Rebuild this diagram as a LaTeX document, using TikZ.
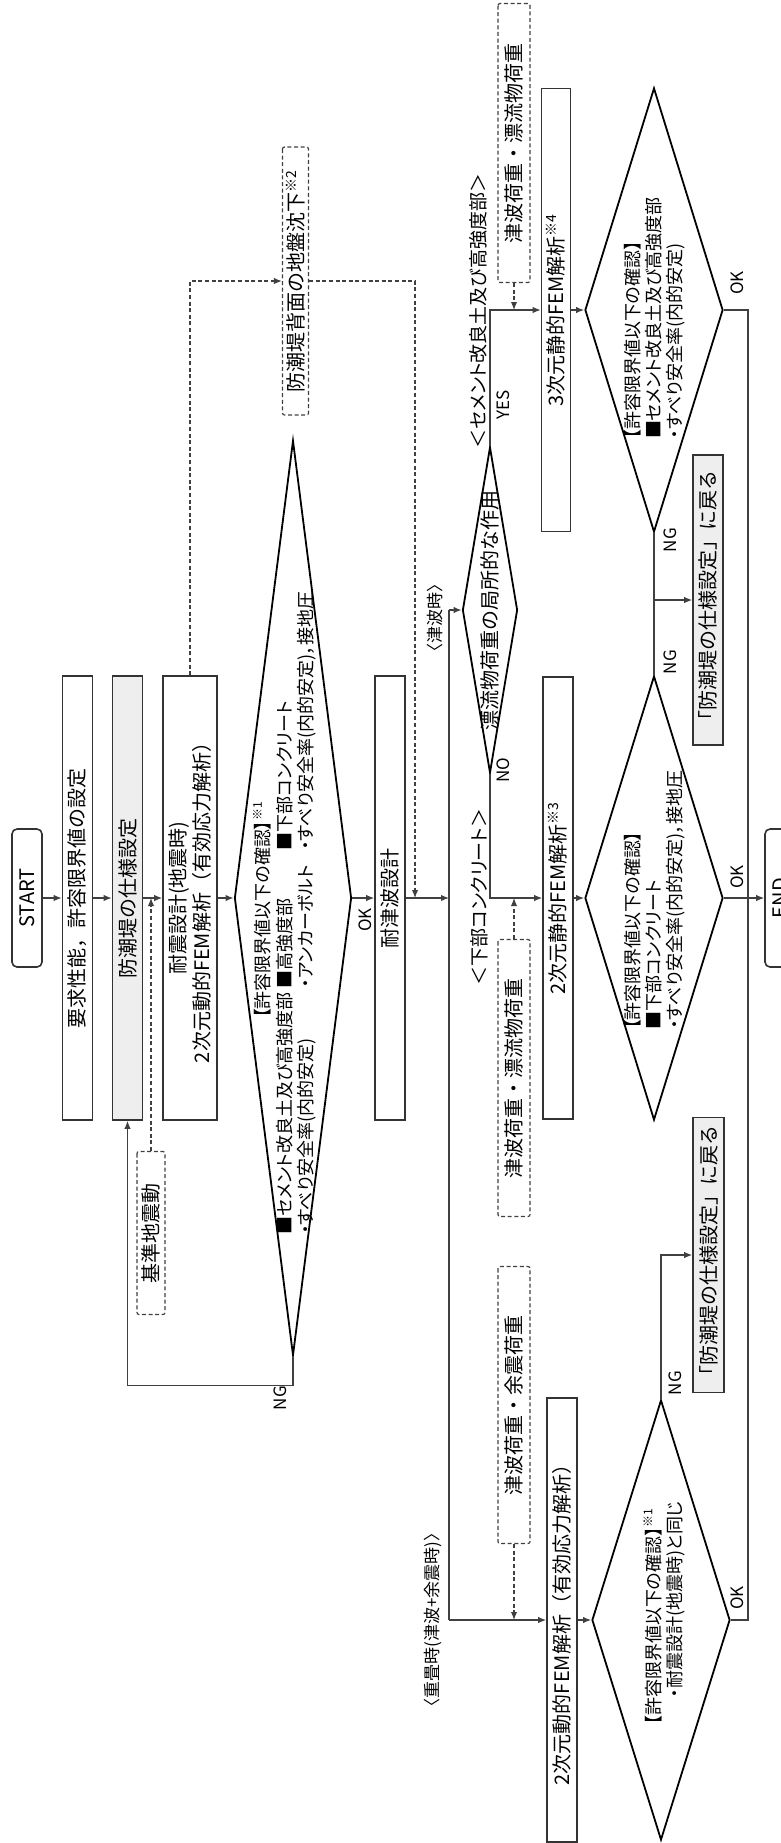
\documentclass[tikz,border=0pt]{standalone}
\usepackage{fontspec}
\setmainfont{Noto Sans CJK JP}
\newfontfamily\pfont{Noto Sans CJK JP}[RawFeature=+palt]
\usepackage{xcolor}
\usepackage{tikz}
\usetikzlibrary{shapes.geometric,arrows.meta,positioning}
\definecolor{boxgray}{HTML}{EEEEEE}
\tikzset{
  box/.style={draw=black!80,line width=0.8pt,rotate=90,inner sep=0pt,minimum height=15pt,font=\fontsize{10}{12}\selectfont},
  grbox/.style={box,fill=boxgray},
  term/.style={box,rounded corners=2.5pt},
  dbox/.style={draw=black!75,line width=0.6pt,dash pattern=on 2pt off 1.3pt,rounded corners=1pt,rotate=90,inner sep=0pt,minimum height=15pt,font=\fontsize{10}{12}\selectfont},
  dec/.style={diamond,draw=black,line width=0.9pt,inner sep=0pt},
  dtxt/.style={rotate=90,inner sep=0pt,font=\pfont\fontsize{9}{10.5}\selectfont},
  txt/.style={rotate=90,inner sep=0pt,font=\fontsize{10}{12}\selectfont},
  lbl/.style={rotate=90,inner sep=0pt,font=\pfont\fontsize{9.5}{11}\selectfont},
  slbl/.style={rotate=90,inner sep=0pt,font=\fontsize{8.5}{10}\selectfont},
  yn/.style={rotate=90,inner sep=0pt,font=\fontsize{8.5}{10}\selectfont},
  conn/.style={draw=black!75,line width=0.6pt},
  arr/.style={conn,-{Latex[length=4pt,width=3.2pt]}},
  darr/.style={arr,dash pattern=on 2pt off 1.3pt}
}
\begin{document}
\begin{tikzpicture}[x=0.5pt,y=-0.5pt]
\useasboundingbox (0,0) rectangle (781,1843);
\clip (0,0) rectangle (781,1843);

% seismic design column
\node[term,minimum width=69pt] (start) at (27,898) {START};
\node[box,minimum width=222pt] (req) at (77.5,898) {要求性能，許容限界値の設定};
\node[grbox,minimum width=222pt] (spec) at (127.5,898) {防潮堤の仕様設定};
\node[box,minimum width=222pt,minimum height=27pt,align=center] (seis) at (190,898) {耐震設計(地震時)\\2次元動的FEM解析（有効応力解析）};
\node[dbox,minimum width=81.5pt,minimum height=14pt] (gm) at (151,1233) {基準地震動};
\node[dec,minimum width=58.5pt,minimum height=457.5pt] (d1) at (293,898) {};
\node[dtxt] (d1t) at (286,913) {\begin{tabular}{@{}p{123pt}@{}p{69pt}@{}l@{}}
\multicolumn{3}{@{}l@{}}{\hspace*{108pt}【許容限界値以下の確認】\textsuperscript{※1}}\\
■セメント改良土及び高強度部 & ■高強度部 & ■下部コンクリート\\
・すべり安全率(内的安定) & ・アンカーボルト & ・すべり安全率(内的安定)，接地圧
\end{tabular}};
\node[dbox,minimum width=134pt,minimum height=13pt] (sub) at (295.5,281) {防潮堤背面の地盤沈下\textsuperscript{※2}};
\node[box,minimum width=222pt] (tsu) at (390,898) {耐津波設計};

% tsunami branches
\coordinate (ta) at (449,610);
\coordinate (tb) at (449,1620);
\node[slbl] (ltsu) at (435,618) {〈津波時〉};
\node[slbl] (ljus) at (433,1620) {〈重畳時(津波+余震時)〉};
\node[dec,minimum width=27.5pt,minimum height=163pt] (d2) at (490,610) {};
\node[txt] (d2t) at (d2) {漂流物荷重の局所的な作用};
\node[lbl] (lcem) at (478,311) {＜セメント改良土及び高強度部＞};
\node[lbl] (lkabu) at (479,897) {＜下部コンクリート＞};
\node[yn] (yes) at (503,405) {YES};
\node[yn] (no) at (503,770) {NO};
\node[dbox,minimum width=139.5pt,minimum height=16pt] (ld1) at (514,143) {津波荷重・漂流物荷重};
\node[dbox,minimum width=138.5pt,minimum height=16pt] (ld2) at (514,1078) {津波荷重・漂流物荷重};
\node[dbox,minimum width=138.5pt,minimum height=16pt] (ld3) at (514,1405) {津波荷重・余震荷重};
\node[box,minimum width=221.5pt,minimum height=14.5pt] (f3) at (556,310) {3次元静的FEM解析\textsuperscript{※4}};
\node[box,minimum width=221pt] (f2) at (558,898) {2次元静的FEM解析\textsuperscript{※3}};
\node[box,minimum width=222pt] (f2d) at (562,1620) {2次元動的FEM解析（有効応力解析）};

% checks
\node[dec,minimum width=69pt,minimum height=222pt] (d3) at (654,310) {};
\node[dtxt,align=left] (d3t) at (655,318) {【許容限界値以下の確認】\\■セメント改良土及び高強度部\\・すべり安全率(内的安定)};
\node[dec,minimum width=69pt,minimum height=222pt] (d4) at (654,898) {};
\node[dtxt,align=left] (d4t) at (655,900) {【許容限界値以下の確認】\\■下部コンクリート\\・すべり安全率(内的安定)，接地圧};
\node[dec,minimum width=69pt,minimum height=220pt] (d5) at (661,1620) {};
\node[dtxt,align=left] (d5t) at (664,1613) {【許容限界値以下の確認】\textsuperscript{※1}\\\hspace*{1.5em}・耐震設計(地震時)と同じ};
\node[grbox,minimum width=145pt] (ret1) at (708,600) {「防潮堤の仕様設定」に戻る};
\node[grbox,minimum width=137.5pt,minimum height=15.5pt] (ret2) at (708.5,1255) {「防潮堤の仕様設定」に戻る};
\node[term,minimum width=69pt] (fin) at (780,898) {END};
\coordinate (ok1) at (748,310);
\coordinate (ok3) at (748,1620);
\coordinate (jd) at (415,898);

% OK / NG
\node[yn] (okd1) at (365,920) {OK};
\node[yn] (ngd1) at (280,1398) {NG};
\node[yn] (okd3) at (737,283) {OK};
\node[yn] (okd4) at (737,877) {OK};
\node[yn] (okd5) at (737,1598) {OK};
\node[yn] (ngd3) at (670,540) {NG};
\node[yn] (ngd4) at (670,662) {NG};
\node[yn] (ngd5) at (675,1383) {NG};

% connectors
\draw[arr] (start) -- (req);
\draw[arr] (req) -- (spec);
\draw[arr] (spec) -- (seis);
\draw[darr] (gm.east) -- (gm.east |- spec);
\draw[arr] (seis) -- (d1);
\draw[arr] (d1) -- (tsu);
\draw[arr] (d1.south) -- ++(0,29) -| (spec.west);
\draw[darr] (seis.east) |- (sub.north);
\draw[darr] (sub.south) -| (jd);
\draw[arr] (tsu) -- (tsu -| ta);
\draw[conn] (ta) -- (tb);
\draw[arr] (ta) -- (d2);
\draw[arr] (tb) -- (f2d);
\draw[arr] (d2.north) |- (f3);
\draw[arr] (d2.south) |- (f2);
\draw[darr] (ld1.west) -- (ld1.west |- f3);
\draw[darr] (ld2.east) -- (ld2.east |- f2);
\draw[darr] (ld3.west) -- (ld3.west |- f2d);
\draw[arr] (f3) -- (d3);
\draw[arr] (f2) -- (d4);
\draw[arr] (f2d) -- (d5);
\draw[conn] (d3.east) -- (ok1) -- (ok3) -- (d5.east);
\draw[arr] (d4.east) -- (fin);
\draw[conn] (d3.south) -- (d4.north);
\draw[arr] (d3.south |- ret1) -- (ret1);
\draw[arr] (d5.north) |- (ret2);
\end{tikzpicture}
\end{document}
